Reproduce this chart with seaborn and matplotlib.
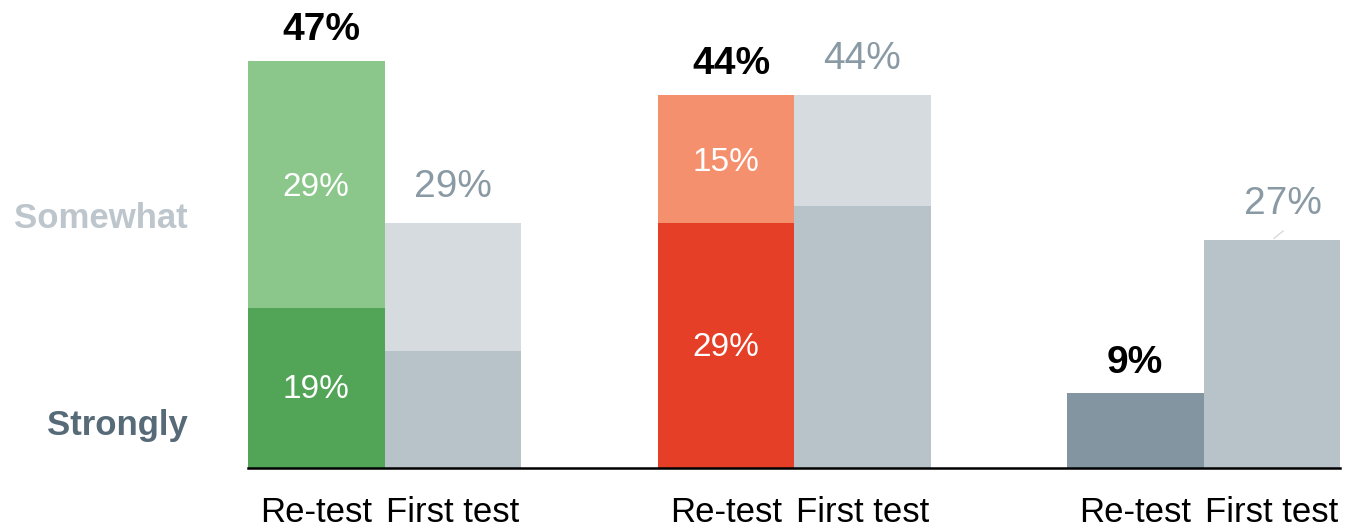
import pandas as pd
import numpy as np
import matplotlib
matplotlib.use("Agg")
import matplotlib.pyplot as plt
import seaborn as sns

# ----------------------------
# Data
# ----------------------------

slots = ["g1_re", "g1_first", "g2_re", "g2_first", "g3_re", "g3_first"]
order = ["g1_re", "g1_first", "gap1", "g2_re", "g2_first", "gap2", "g3_re", "g3_first"]
tests = ["Re-test", "First test", "Re-test", "First test", "Re-test", "First test"]

strongly = [18.8, 13.8, 28.8, 30.8, 8.8, 26.8]
total = [47.9, 28.8, 43.9, 43.9, 8.8, 26.8]

total_labels = ["47%", "29%", "44%", "44%", "9%", "27%"]
somewhat_labels = ["29%", "", "15%", "", "", ""]
strongly_labels = ["19%", "", "29%", "", "", ""]

somewhat_colors = ["#8bc78a", "#d6dbdf", "#f5906e", "#d6dbdf", "#8395a0", "#b8c2c9"]
strongly_colors = ["#52a457", "#b8c2c9", "#e53f28", "#b8c2c9", "#8395a0", "#b8c2c9"]

df = pd.DataFrame({"slot": slots, "test": tests, "strongly": strongly, "total": total})

# ----------------------------
# Plot
# ----------------------------

sns.set_style("white")
plt.rcParams["font.family"] = ["Liberation Sans", "DejaVu Sans"]

fig = plt.figure(figsize=(13.45, 5.29), dpi=100)
ax = fig.add_axes([248 / 1345, 61 / 529, 1092 / 1345, 468 / 529])

sns.barplot(data=df, x="slot", y="total", hue="slot", order=order,
            palette=dict(zip(slots, somewhat_colors)), width=1, saturation=1,
            linewidth=0, legend=False, ax=ax)
sns.barplot(data=df, x="slot", y="strongly", hue="slot", order=order,
            palette=dict(zip(slots, strongly_colors)), width=1, saturation=1,
            linewidth=0, legend=False, ax=ax)

ax.set_xlim(-0.5, 7.5)
ax.set_ylim(0, 55.06)

pos = [order.index(s) for s in slots]

for i, x in enumerate(pos):
    is_re = tests[i] == "Re-test"
    if is_re:
        dx = 4 if i < 4 else 0
        ax.annotate(total_labels[i], (x, total[i]), xytext=(dx, 9),
                    textcoords="offset points", ha="center", va="bottom",
                    fontsize=28, fontweight="bold", color="black")
    else:
        dx = 8 if i == 5 else 0
        ax.annotate(total_labels[i], (x, total[i]), xytext=(dx, 13),
                    textcoords="offset points", ha="center", va="bottom",
                    fontsize=28, color="#8a9aa5")
        if i == 5:
            ax.annotate("", (x, total[i]), xytext=(x + 0.1, total[i] + 1.3),
                        arrowprops=dict(arrowstyle="-", color="#d6dbdf", lw=1))
    if somewhat_labels[i]:
        ax.text(x, (strongly[i] + total[i]) / 2 - 0.4, somewhat_labels[i],
                ha="center", va="center", fontsize=24, color="white")
    if strongly_labels[i]:
        ax.text(x, strongly[i] / 2 - 0.2, strongly_labels[i], ha="center",
                va="center", fontsize=24, color="white")

ax.text(-0.94, 28.2, "Somewhat", ha="right", va="baseline", fontsize=25,
        fontweight="bold", color="#bcc6cc")
ax.text(-0.94, 3.9, "Strongly", ha="right", va="baseline", fontsize=25,
        fontweight="bold", color="#566a78")

ax.set_xticks(pos)
ax.set_xticklabels(tests, fontsize=25, color="black")
ax.tick_params(axis="x", length=0, pad=20)
ax.set_yticks([])
ax.set_xlabel("")
ax.set_ylabel("")

sns.despine(ax=ax, left=True)
ax.spines["bottom"].set_color("black")
ax.spines["bottom"].set_linewidth(1.8)

fig.savefig("out.png", dpi=100)
